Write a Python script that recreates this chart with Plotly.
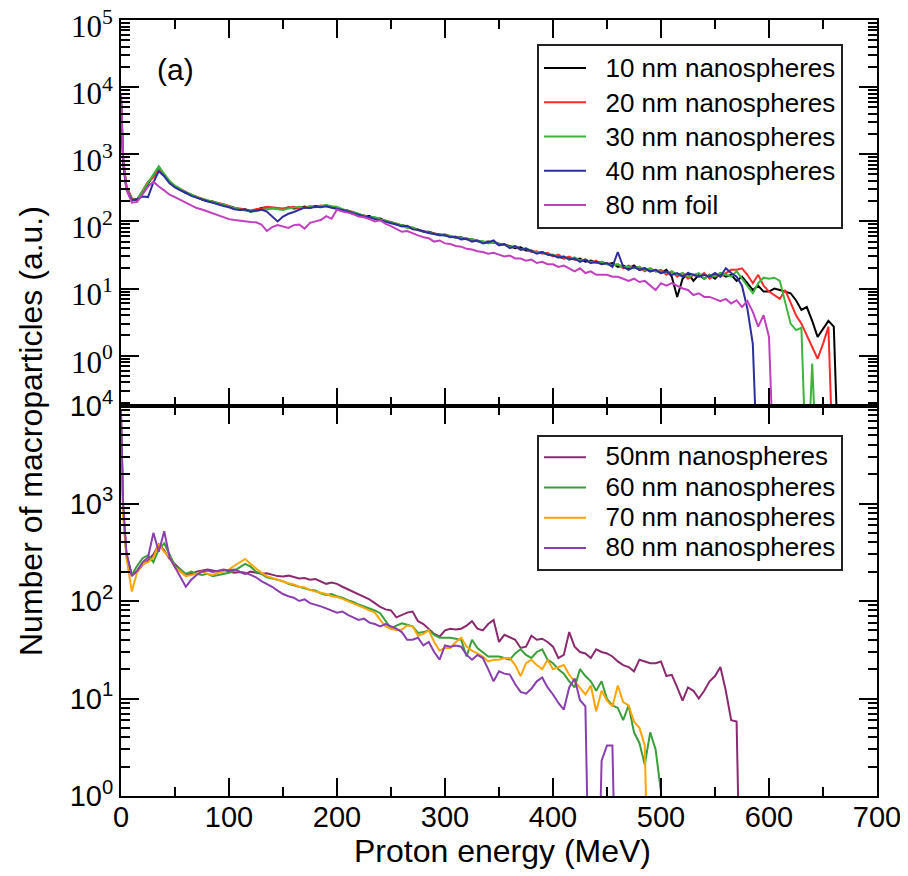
import plotly.graph_objects as go

# ---------------- data ----------------
# energy bins (MeV): 0, 2, then every 5 MeV
ENERGY = [0, 2] + list(range(5, 670, 5))

# top panel (a)
nano10 = [7000, 800, 330, 215, 205, 270, 370, 480, 640, 490, 380,
          330, 295, 265, 250, 228, 212, 200, 198, 185, 178,
          168, 160, 150, 152, 140, 148, 158, 162, 158, 155,
          152, 162, 156, 158, 166, 160, 170, 168, 172, 165,
          158, 148, 146, 134, 128, 120, 120, 110, 110, 100,
          98, 90, 88, 85, 78, 76, 70, 70, 66, 64,
          63, 60, 57, 58, 54, 54, 51, 49, 50, 48,
          47, 44, 43, 40, 41, 37, 37, 34, 35, 32,
          31, 30, 28, 29, 27, 28, 25, 26, 24, 25,
          23, 24, 21, 22, 20, 22, 19, 20, 18, 19,
          17, 19, 15, 7.5, 14, 17, 13, 16, 14, 16,
          14, 17, 15, 16, 13, 15, 12, 9.5, 11, 9,
          9, 10, 9.5, 9, 8.5, 6.7, 4.8, 5.3, 3.3, 1.9,
          2.5, 3.3, 2.7, 0.01]
nano20 = [6500, 850, 340, 220, 210, 280, 390, 450, 600, 500, 390,
          335, 300, 275, 248, 232, 215, 205, 196, 190, 180,
          170, 158, 155, 150, 145, 152, 155, 165, 160, 158,
          155, 160, 165, 155, 162, 168, 165, 172, 168, 162,
          160, 150, 142, 138, 126, 124, 115, 113, 106, 103,
          95, 93, 86, 82, 80, 74, 72, 67, 66, 62,
          64, 59, 59, 55, 56, 52, 52, 49, 48, 50,
          45, 46, 41, 42, 38, 39, 35, 36, 33, 34,
          30, 32, 28, 30, 27, 26, 27, 24, 26, 23,
          24, 22, 23, 20, 22, 20, 21, 18, 20, 18,
          19, 16, 18, 15, 17, 14, 16, 15, 17, 14,
          16, 15, 17, 19, 19, 20, 16, 12, 16, 11,
          9, 8, 7, 9.5, 6, 4, 3, 2, 1.3, 0.9,
          1.5, 2.7, 0.01]
nano30 = [7500, 820, 320, 210, 215, 285, 380, 500, 660, 510, 400,
          340, 305, 270, 255, 230, 218, 206, 195, 188, 176,
          166, 156, 150, 145, 140, 142, 148, 150, 155, 152,
          148, 155, 160, 165, 158, 165, 162, 170, 175, 168,
          165, 152, 145, 136, 130, 122, 115, 116, 107, 102,
          97, 92, 88, 80, 82, 75, 70, 69, 65, 63,
          62, 61, 57, 57, 54, 54, 50, 51, 47, 49,
          46, 45, 42, 43, 38, 40, 36, 35, 35, 32,
          32, 29, 30, 27, 29, 26, 27, 25, 24, 25,
          23, 22, 23, 21, 21, 20, 21, 19, 20, 18,
          18, 17, 18, 16, 17, 15, 16, 17, 14, 16,
          15, 17, 16, 15, 18, 14, 11, 8.5, 12, 14.5,
          14, 14.5, 13, 6, 3, 2.4, 2.6, 0.01, 0.76, 0.01]
nano40 = [6000, 700, 300, 205, 215, 235, 230, 380, 560, 470, 370,
          320, 290, 268, 240, 225, 210, 200, 190, 182, 170,
          162, 152, 148, 150, 140, 145, 150, 140, 118, 100,
          118, 130, 138, 150, 160, 158, 165, 162, 168, 160,
          155, 148, 140, 132, 126, 118, 116, 108, 104, 100,
          94, 90, 84, 86, 76, 75, 70, 67, 65, 62,
          62, 58, 59, 54, 55, 50, 52, 47, 49, 52,
          44, 46, 40, 43, 38, 39, 36, 33, 35, 32,
          31, 29, 30, 27, 28, 25, 27, 24, 25, 23,
          24, 21, 35, 21, 19, 21, 19, 20, 18, 19,
          17, 18, 16, 17, 15, 17, 16, 15, 16, 15,
          17, 15, 20, 17, 15, 11, 5, 1.5, 0.01]
foil80 = [8000, 900, 300, 190, 195, 250, 330, 390, 330, 290, 250,
          230, 210, 188, 172, 158, 150, 140, 130, 122, 116,
          108, 105, 102, 100, 98, 97, 90, 72, 82, 88,
          85, 80, 88, 90, 78, 95, 100, 105, 120, 110,
          150, 140, 135, 128, 118, 115, 108, 100, 104, 92,
          85, 78, 70, 72, 66, 62, 58, 56, 50, 52,
          47, 46, 43, 42, 39, 38, 36, 35, 33, 34,
          32, 30, 31, 28, 28, 26, 27, 24, 25, 23,
          23, 21, 22, 20, 18, 20, 17, 18, 16, 16,
          16, 15, 15, 14, 13, 14, 12.5, 13, 11, 9.5,
          12, 11, 12, 11, 10, 9.5, 8, 8.5, 7.5, 7.5,
          7, 6.5, 7, 6, 6.7, 5.3, 6.5, 4.5, 2.7, 4,
          1.9, 0.01]

# bottom panel
nano50 = [8000, 900, 300, 185, 200, 235, 260, 300, 380, 330, 270,
          240, 210, 185, 190, 200, 205, 210, 205, 200, 205,
          200, 195, 198, 190, 200, 195, 190, 192, 185, 180,
          178, 182, 176, 170, 172, 165, 168, 158, 150, 155,
          150, 140, 132, 125, 118, 110, 104, 95, 87, 82,
          80, 68, 72, 76, 78, 62, 58, 52, 46, 43,
          50, 52, 51, 52, 56, 62, 52, 50, 58, 64,
          38, 45, 42, 40, 33, 34, 44, 40, 41, 38,
          34, 26, 28, 48, 34, 30, 29, 26, 32, 30,
          29, 27, 24, 22, 21, 19, 25, 24, 23, 23,
          24, 17, 17.5, 13, 9.5, 13, 12, 10, 12, 15,
          17, 21, 12, 6, 5.8, 0.01]
nano60 = [7000, 800, 300, 185, 230, 275, 295, 250, 340, 390, 300,
          230, 210, 190, 200, 190, 185, 190, 180, 185, 190,
          195, 205, 220, 240, 225, 200, 190, 175, 170, 165,
          160, 150, 145, 140, 135, 130, 128, 120, 115, 118,
          112, 108, 102, 98, 92, 88, 84, 80, 75, 62,
          52, 56, 59, 57, 55, 47, 48, 50, 45, 42,
          42, 42, 41, 40, 27, 40, 33, 30, 27, 27,
          27, 26, 25, 29, 32, 28, 26, 30, 32, 25,
          23, 20, 18, 15, 13, 20, 17, 15, 12, 15,
          9.9, 8.5, 8, 6, 8.5, 4.5, 3.5, 2.1, 4.5, 3,
          1.1, 0.01]
nano70 = [6500, 750, 280, 125, 200, 240, 250, 280, 380, 320, 280,
          220, 200, 180, 185, 190, 200, 190, 185, 195, 200,
          210, 230, 250, 270, 240, 215, 195, 180, 172, 165,
          158, 152, 148, 140, 138, 130, 125, 122, 118, 112,
          110, 105, 100, 95, 90, 85, 80, 76, 64, 55,
          52, 50, 51, 56, 55, 44, 46, 50, 38, 31,
          33, 33, 38, 42, 34, 31, 29, 27, 24, 25,
          25, 26, 26, 22, 17, 23, 25, 22, 20, 25,
          20, 21, 22, 17.5, 15, 13, 11, 13.6, 7.4, 12,
          9.5, 8.3, 13.6, 9.2, 8.5, 5.8, 5, 3.3, 0.01]
nano80 = [9000, 1000, 320, 180, 205, 250, 280, 500, 320, 520, 280,
          220, 175, 140, 165, 185, 200, 205, 198, 205, 210,
          205, 210, 200, 195, 185, 175, 160, 150, 140, 128,
          118, 112, 108, 100, 104, 95, 92, 88, 84, 80,
          76, 78, 72, 68, 64, 66, 60, 58, 55, 58,
          55, 52, 48, 40, 40, 42, 35, 38, 30, 25,
          35, 34, 35, 34, 28, 25, 28, 26, 20, 15,
          19, 18, 17.6, 14, 11.7, 11.2, 12.6, 15, 16.4, 13,
          11, 9, 7.7, 13, 16, 9.6, 8.3, 0.01, 0.01, 2.3,
          3.3, 3.3, 0.01]

TOP_SERIES = [("10 nm nanospheres", nano10, "#000000"),
              ("20 nm nanospheres", nano20, "#FF2A2A"),
              ("30 nm nanospheres", nano30, "#3DB53D"),
              ("40 nm nanospheres", nano40, "#2E2E9E"),
              ("80 nm foil", foil80, "#C040C0")]
BOTTOM_SERIES = [("50nm nanospheres", nano50, "#8B2A6E"),
                 ("60 nm nanospheres", nano60, "#3A9E3A"),
                 ("70 nm nanospheres", nano70, "#FFA500"),
                 ("80 nm nanospheres", nano80, "#8A3FB0")]

TOP_TICKS = [1, 10, 100, 1000, 10000, 100000]
TOP_TICKTEXT = ["10<sup>0</sup>", "10<sup>1</sup>", "10<sup>2</sup>",
                "10<sup>3</sup>", "10<sup>4</sup>", "10<sup>5</sup>"]
BOT_TICKS = [1, 10, 100, 1000, 10000]
BOT_TICKTEXT = ["10<sup>0</sup>", "10<sup>1</sup>", "10<sup>2</sup>",
                "10<sup>3</sup>", "10<sup>4</sup>"]
X_TICKS = [0, 100, 200, 300, 400, 500, 600, 700]

# ---------------- figure ----------------
LEGEND_TEXT_SIZE = 26
PAD = "\u00a0\u00a0"


def legend_label(name):
    return f"<span style='font-size:{LEGEND_TEXT_SIZE}px'>{PAD}{name}</span>"


fig = go.Figure()
for name, vals, color in TOP_SERIES:
    fig.add_trace(go.Scatter(x=ENERGY[:len(vals)], y=vals, mode="lines",
                             name=legend_label(name),
                             line=dict(color=color, width=2),
                             xaxis="x", yaxis="y", legend="legend"))
for name, vals, color in BOTTOM_SERIES:
    fig.add_trace(go.Scatter(x=ENERGY[:len(vals)], y=vals, mode="lines",
                             name=legend_label(name),
                             line=dict(color=color, width=2),
                             xaxis="x2", yaxis="y2", legend="legend2"))

minor_y_top = [m * 10.0 ** e for e in range(-1, 5) for m in range(2, 10)]
minor_y_bot = [m * 10.0 ** e for e in range(0, 4) for m in range(2, 10)]

common = dict(showline=True, linecolor="black", linewidth=2, mirror="ticks",
              ticks="inside", tickcolor="black", tickwidth=2, ticklen=18,
              showgrid=False, zeroline=False, automargin=False,
              ticklabeloverflow="allow")
minor_common = dict(ticks="inside", ticklen=9, tickwidth=2, tickcolor="black", showgrid=False)

sans = "Liberation Sans, Arial, Helvetica, sans-serif"
serif = "Liberation Serif, Times New Roman, serif"

# page body adds an 8px offset; plot area target: x 121..877, y 20..796
ML, MT = 113, 12
PW, PH = 756, 776
split = 390 / PH


def px_x(x):
    return (x - 8 - ML) / PW


def px_y(y):
    return (MT + PH - (y - 8)) / PH


fig.update_layout(
    template="none",
    width=908, height=876,
    margin=dict(l=ML, r=908 - ML - PW, t=MT, b=876 - MT - PH),
    paper_bgcolor="white", plot_bgcolor="white",
    font=dict(family=sans, color="black"),
    xaxis=dict(domain=[0, 1], anchor="y", range=[0, 700], tickvals=X_TICKS,
               showticklabels=False,
               minor=dict(dtick=50, tick0=0, **minor_common), **common),
    xaxis2=dict(domain=[0, 1], anchor="y2", range=[0, 700], tickvals=X_TICKS,
                tickfont=dict(family=sans, size=29, color="black"),
                ticklabelstandoff=-6,
                minor=dict(dtick=50, tick0=0, **minor_common), **common),
    yaxis=dict(domain=[split, 1], anchor="x", type="log", range=[-0.75, 5],
               tickmode="array", tickvals=TOP_TICKS, ticktext=TOP_TICKTEXT,
               tickfont=dict(family=serif, size=31, color="black"),
               ticklabelshift=6,
               minor=dict(tickmode="array", tickvals=minor_y_top, **minor_common), **common),
    yaxis2=dict(domain=[0, split], anchor="x2", type="log", range=[0, 4],
                tickmode="array", tickvals=BOT_TICKS, ticktext=BOT_TICKTEXT,
                tickfont=dict(family=sans, size=29, color="black"),
                minor=dict(tickmode="array", tickvals=minor_y_bot, **minor_common), **common),
    legend=dict(x=px_x(537), y=px_y(44), xanchor="left", yanchor="top",
                bgcolor="white", bordercolor="#222222", borderwidth=2, itemwidth=42,
                font=dict(family=sans, size=24, color="black"), tracegroupgap=0),
    legend2=dict(x=px_x(537), y=px_y(435), xanchor="left", yanchor="top",
                 bgcolor="white", bordercolor="#222222", borderwidth=2, itemwidth=42,
                 font=dict(family=sans, size=21, color="black"), tracegroupgap=0),
    annotations=[
        dict(text="(a)", x=px_x(175), y=px_y(70), xref="paper", yref="paper",
             showarrow=False, font=dict(family=sans, size=30, color="black"),
             xanchor="center", yanchor="middle"),
        dict(text="Number of macroparticles (a.u.)", x=px_x(31), y=px_y(431),
             xref="paper", yref="paper", showarrow=False, textangle=-90,
             font=dict(family=sans, size=32, color="black"),
             xanchor="center", yanchor="middle"),
        dict(text="Proton energy (MeV)", x=px_x(502), y=px_y(851),
             xref="paper", yref="paper", showarrow=False,
             font=dict(family=sans, size=32, color="black"),
             xanchor="center", yanchor="middle"),
    ],
    showlegend=True,
)

fig.write_html("out.html")
